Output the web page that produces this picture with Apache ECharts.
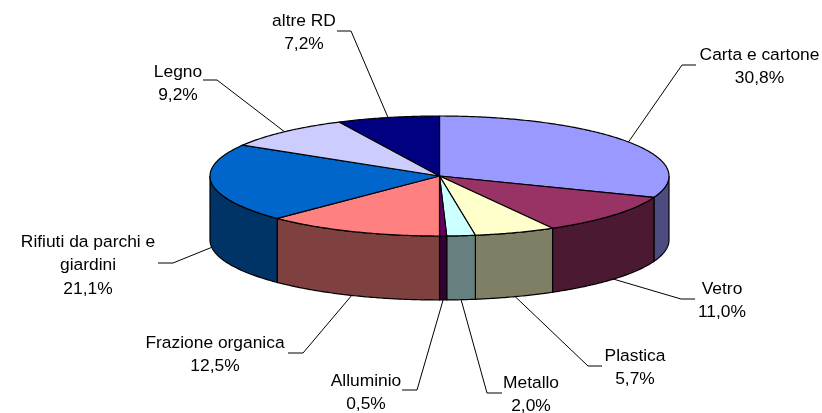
<!DOCTYPE html>
<html>
<head>
<meta charset="utf-8">
<style>html,body{margin:0;padding:0;background:#fff}#c{width:822px;height:413px}</style>
<script src="https://cdn.jsdelivr.net/npm/echarts@6/dist/echarts.min.js"></script>
</head>
<body>
<div id="c"></div>
<script>
const categories = ['Carta e cartone','Vetro','Plastica','Metallo','Alluminio','Frazione organica','Rifiuti da parchi e\ngiardini','Legno','altre RD'];
const values = [30.8,11.0,5.7,2.0,0.5,12.5,21.1,9.2,7.2];
const topColors = ['#9999FF','#993366','#FFFFCC','#CCFFFF','#660066','#FF8080','#0066CC','#CCCCFF','#000080'];
const wallColors = ['#4C4C7F','#4C1933','#7F7F66','#667F7F','#330033','#7F4040','#003366','#66667F','#000040'];

// Layout of the pie and of the callouts
const pie = {cx:439.5, cy:176, rx:229.5, ry:60, depth:64};
const callouts = [
  {elbow:[682,65],  end:[696,65],  tx:759.5, ty:55},
  {elbow:[681,299], end:[695,299], tx:722, ty:289},
  {elbow:[588,366], end:[602,366], tx:635, ty:356},
  {elbow:[487,393], end:[502,393], tx:531, ty:383},
  {elbow:[417,390], end:[402,390], tx:366, ty:381},
  {elbow:[303,353], end:[288,353], tx:215, ty:343},
  {elbow:[173,263], end:[158,263], tx:88,  ty:242},
  {elbow:[217,80],  end:[203,80],  tx:178, ty:72},
  {elbow:[351,31],  end:[337,31],  tx:304, ty:21}
];
const FONT = '17.4px "Liberation Sans", Arial, sans-serif';
const LINE_H = 23.7;

const total = values.reduce((a,b)=>a+b,0);
function pt(a, dy){ return [pie.cx + pie.rx*Math.sin(a), pie.cy - pie.ry*Math.cos(a) + (dy||0)]; }
function arc(a0, a1, dy){
  const n = Math.max(2, Math.ceil((a1-a0)/0.01)), out = [];
  for (let i=0;i<=n;i++) out.push(pt(a0+(a1-a0)*i/n, dy));
  return out;
}
function renderItem(params, api){
  const i = params.dataIndex;
  let before = 0;
  for (let k=0;k<i;k++) before += values[k];
  const v = api.value(0);
  const a0 = before/total*2*Math.PI, a1 = (before+v)/total*2*Math.PI;
  const children = [];
  // visible outer wall: front half only
  const w0 = Math.max(a0, Math.PI/2), w1 = Math.min(a1, 3*Math.PI/2);
  if (w1 > w0){
    const pts = arc(w0,w1,0).concat(arc(w0,w1,pie.depth).reverse());
    children.push({type:'polygon', z2:1, shape:{points:pts},
      style:{fill:wallColors[i], stroke:'#000', lineWidth:1.2}});
  }
  children.push({type:'polygon', z2:2, shape:{points:[[pie.cx,pie.cy]].concat(arc(a0,a1,0))},
    style:{fill:topColors[i], stroke:'#000', lineWidth:1.2, lineJoin:'round'}});
  // callout
  const mid = (a0+a1)/2, c = callouts[i];
  const front = Math.cos(mid) < 0 ;
  const start = pt(mid, front ? pie.depth : 0);
  children.push({type:'polyline', z2:3, shape:{points:[start,c.elbow,c.end]},
    style:{fill:null, stroke:'#000', lineWidth:1}});
  const lines = categories[i].split('\n').concat(v.toFixed(1).replace('.',',')+'%');
  lines.forEach((t,j)=>children.push({type:'text', z2:4,
    style:{x:c.tx, y:c.ty+j*LINE_H, text:t, font:FONT, fill:'#000', align:'center', verticalAlign:'middle'}}));
  return {type:'group', children};
}
const chart = echarts.init(document.getElementById('c'), null, {renderer:'canvas'});
chart.setOption({
  backgroundColor:'#fff',
  animation:false,
  series:[{
    type:'custom',
    coordinateSystem:'none',
    silent:true,
    renderItem,
    data: values.map((v,i)=>({name:categories[i], value:[v]}))
  }]
});
</script>
</body>
</html>
